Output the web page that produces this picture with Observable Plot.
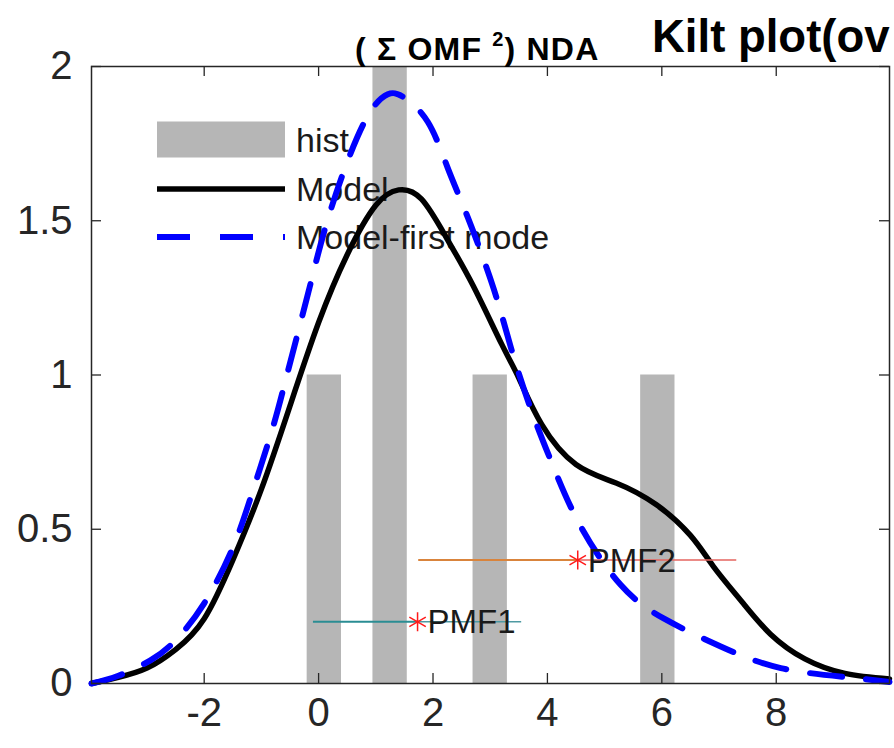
<!DOCTYPE html>
<html><head><meta charset="utf-8">
<script src="https://cdn.jsdelivr.net/npm/d3@7"></script>
<script src="https://cdn.jsdelivr.net/npm/@observablehq/plot@0.6"></script>
<style>
html,body{margin:0;padding:0;background:#fff;overflow:hidden;}
#chart{position:relative;width:894px;height:748px;}
</style></head><body><div id="chart"></div>
<script>
// ---- data ----
const xTicks = [-2, 0, 2, 4, 6, 8];
const yTicks = [0, 0.5, 1, 1.5, 2];
const histCenters = [0.1, 1.25, 3.0, 5.93];
const histCounts = [1, 2, 1, 1];
const histHalfWidth = 0.3;

const modelX = [-3.97, -3.5, -3.0, -2.5, -2.0, -1.5, -1.0, -0.5, 0.0, 0.5, 1.0, 1.4, 1.8, 2.25, 2.7, 3.2, 3.5, 3.9, 4.5, 5.2, 5.9, 6.5, 6.9, 7.4, 7.9, 8.5, 9.2, 9.98];
const modelY = [0.0, 0.02, 0.05, 0.11, 0.21, 0.40, 0.63, 0.90, 1.17, 1.39, 1.55, 1.60, 1.57, 1.44, 1.29, 1.10, 0.99, 0.84, 0.71, 0.65, 0.58, 0.48, 0.38, 0.265, 0.16, 0.08, 0.033, 0.015];

const firstX = [-3.97, -3.5, -2.94, -2.5, -2.0, -1.5, -1.14, -0.8, -0.54, -0.19, 0.09, 0.44, 0.86, 1.21, 1.49, 1.91, 2.26, 2.61, 3.06, 3.36, 3.71, 4.11, 4.58, 5.28, 6.04, 7.03, 8.08, 9.26, 9.98];
const firstY = [0.0, 0.025, 0.075, 0.14, 0.26, 0.44, 0.63, 0.83, 1.01, 1.26, 1.46, 1.66, 1.84, 1.91, 1.90, 1.82, 1.67, 1.51, 1.28, 1.09, 0.89, 0.70, 0.51, 0.32, 0.21, 0.12, 0.05, 0.02, 0.005];

const pmfNames = ["PMF1", "PMF2"];
const pmfX = [1.73, 4.53];
const pmfY = [0.2, 0.4];
const pmfSpread = [1.82, 2.78];
const pmfLeftColors = ["#2a8d93", "#d9843c"];
const pmfRightColors = ["#4f9aa2", "#e4655f"];

const legendLabels = ["hist", "Model", "Model-first mode"];
const titleSub = ["( \u03A3 OMF ", "2", ") NDA"];
const titleMain = "Kilt plot(ov";

// ---- tables ----
const hist = histCenters.map((c, i) => ({c, n: histCounts[i]}));
const model = modelX.map((x, i) => ({x, y: modelY[i]}));
const first = firstX.map((x, i) => ({x, y: firstY[i]}));
const pmf = pmfNames.map((name, i) => ({name, x: pmfX[i], y: pmfY[i], s: pmfSpread[i], lc: pmfLeftColors[i], rc: pmfRightColors[i]}));

const W = 894, H = 748, ML = 91, MR = 5, MT = 66, MB = 65;
const frameW = W - ML - MR, frameH = H - MT - MB;
const font = "'Liberation Sans', Arial, Helvetica, sans-serif";
const axisColor = "#262626";
const fmt = d => String(d);

const svg = Plot.plot({
  width: W, height: H,
  marginLeft: ML, marginRight: MR, marginTop: MT, marginBottom: MB,
  style: {fontFamily: font, fontSize: "40px", color: axisColor, background: "white", overflow: "hidden"},
  x: {domain: [-3.97, 9.98], label: null},
  y: {domain: [0, 2], label: null},
  marks: [
    Plot.rectY(hist, {x1: d => d.c - histHalfWidth, x2: d => d.c + histHalfWidth, y1: 0, y2: "n", fill: "#b6b6b6"}),
    Plot.line(model, {x: "x", y: "y", stroke: "black", strokeWidth: 5.5, curve: "natural"}),
    Plot.line(first, {x: "x", y: "y", stroke: "#0000ff", strokeWidth: 6, strokeDasharray: "32,24", curve: "natural"}),
    Plot.ruleY(pmf, {y: "y", x1: d => d.x - d.s, x2: "x", stroke: d => d.lc, strokeWidth: 2}),
    Plot.ruleY(pmf, {y: "y", x1: "x", x2: d => d.x + d.s, stroke: d => d.rc, strokeWidth: 1.5}),
    Plot.dot(pmf, {x: "x", y: "y", symbol: "asterisk", r: 9, stroke: "#ff1a1a", strokeWidth: 1.5}),
    Plot.text(pmf, {x: "x", y: "y", text: "name", textAnchor: "start", dx: 10, dy: 1, fontSize: 33, fill: "#1a1a1a"}),
    Plot.frame({stroke: axisColor, strokeWidth: 1.5}),
    Plot.tickX(xTicks, {x: d => d, insetTop: frameH - 10, stroke: axisColor, strokeWidth: 1.3}),
    Plot.tickX(xTicks, {x: d => d, insetBottom: frameH - 10, stroke: axisColor, strokeWidth: 1.3}),
    Plot.tickY(yTicks, {y: d => d, insetRight: frameW - 10, stroke: axisColor, strokeWidth: 1.3}),
    Plot.tickY(yTicks, {y: d => d, insetLeft: frameW - 10, stroke: axisColor, strokeWidth: 1.3}),
    Plot.axisX({ticks: xTicks, tickSize: 0, tickPadding: 14, fontSize: 40, fill: axisColor, tickFormat: fmt, label: null}),
    Plot.axisY({ticks: yTicks, tickSize: 0, tickPadding: 19, fontSize: 40, fill: axisColor, tickFormat: fmt, label: null})
  ]
});

document.getElementById("chart").appendChild(svg);

// ---- legend (below curves) ----
const s = d3.select(svg);
const leg = s.insert("g", "g[aria-label='line']").attr("font-family", font).attr("text-anchor", "start");
const lx1 = 157, lx2 = 285, rows = [139.5, 189, 237];
leg.append("rect").attr("x", lx1).attr("y", rows[0] - 18).attr("width", lx2 - lx1).attr("height", 36).attr("fill", "#b6b6b6");
leg.append("line").attr("x1", lx1).attr("x2", lx2).attr("y1", rows[1]).attr("y2", rows[1]).attr("stroke", "black").attr("stroke-width", 5.5);
leg.append("line").attr("x1", lx1).attr("x2", lx2).attr("y1", rows[2]).attr("y2", rows[2]).attr("stroke", "#0000ff").attr("stroke-width", 6).attr("stroke-dasharray", "33,30");
legendLabels.forEach((t, i) => {
  leg.append("text").attr("x", 296).attr("y", rows[i] + 12).attr("font-size", 34).attr("fill", "#1a1a1a").text(t);
});

// ---- titles ----
const tg = s.append("g").attr("text-anchor", "start").attr("font-family", font).attr("font-weight", "bold").attr("fill", "#000");
const t1 = tg.append("text").attr("x", 355).attr("y", 60).attr("font-size", 32).attr("letter-spacing", 1.2);
t1.append("tspan").text(titleSub[0]);
t1.append("tspan").attr("dy", -14).attr("font-size", 20).text(titleSub[1]);
t1.append("tspan").attr("dy", 14).text(titleSub[2]);
tg.append("text").attr("x", 652).attr("y", 52).attr("font-size", 45.5).text(titleMain);
</script></body></html>
